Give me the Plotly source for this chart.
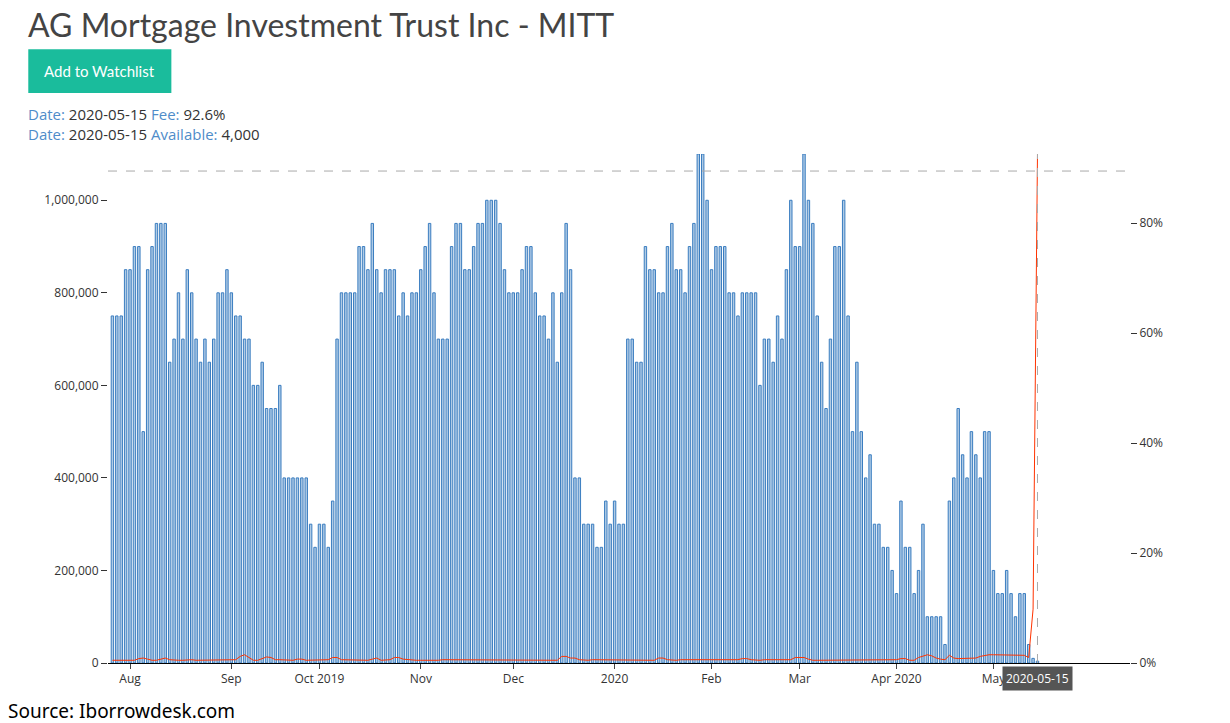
import plotly.graph_objects as go
import pandas as pd

# shares available, one value per trading day, ending 2020-05-15
available = [
    750000, 750000, 750000, 850000, 850000, 900000, 900000, 500000, 850000, 900000,
    950000, 950000, 950000, 650000, 700000, 800000, 700000, 850000, 800000, 700000,
    650000, 700000, 650000, 700000, 800000, 800000, 850000, 800000, 750000, 750000,
    700000, 700000, 600000, 600000, 650000, 550000, 550000, 550000, 600000, 400000,
    400000, 400000, 400000, 400000, 400000, 300000, 250000, 300000, 300000, 250000,
    350000, 700000, 800000, 800000, 800000, 800000, 900000, 900000, 850000, 950000,
    850000, 800000, 850000, 850000, 850000, 750000, 800000, 750000, 800000, 800000,
    850000, 900000, 950000, 800000, 700000, 700000, 700000, 900000, 950000, 950000,
    850000, 850000, 900000, 950000, 950000, 1000000, 1000000, 1000000, 950000, 850000,
    800000, 800000, 800000, 850000, 900000, 900000, 800000, 750000, 750000, 700000,
    800000, 650000, 800000, 950000, 850000, 400000, 400000, 300000, 300000, 300000,
    250000, 250000, 350000, 300000, 350000, 300000, 300000, 700000, 700000, 650000,
    650000, 900000, 850000, 850000, 800000, 800000, 900000, 950000, 850000, 850000,
    800000, 900000, 950000, 1100000, 1100000, 1000000, 850000, 900000, 900000, 900000,
    800000, 800000, 750000, 800000, 800000, 800000, 800000, 600000, 700000, 700000,
    650000, 750000, 700000, 850000, 1000000, 900000, 900000, 1100000, 1000000, 950000,
    750000, 650000, 550000, 700000, 900000, 900000, 1000000, 750000, 500000, 650000,
    500000, 400000, 450000, 300000, 300000, 250000, 250000, 200000, 150000, 350000,
    250000, 250000, 150000, 200000, 300000, 100000, 100000, 100000, 100000, 40000,
    350000, 400000, 550000, 450000, 400000, 500000, 450000, 400000, 500000, 500000,
    200000, 150000, 150000, 200000, 150000, 100000, 150000, 150000, 40000, 10000,
    4000,
]

# borrow fee in percent, same days
fee = [
    0.5, 0.5, 0.6, 0.5, 0.5, 0.5, 0.8, 0.9, 0.7, 0.5,
    0.5, 0.7, 0.9, 0.6, 0.5, 0.5, 0.5, 0.6, 0.6, 0.5,
    0.5, 0.6, 0.5, 0.5, 0.5, 0.5, 0.5, 0.5, 0.6, 1.2,
    1.5, 1.0, 0.5, 0.5, 0.8, 1.1, 1.0, 0.6, 0.6, 0.6,
    0.5, 0.5, 0.7, 0.7, 0.5, 0.5, 0.5, 0.5, 0.5, 0.6,
    1.0, 1.0, 0.6, 0.6, 0.5, 0.5, 0.6, 0.5, 0.5, 0.7,
    0.9, 0.5, 0.5, 0.6, 1.0, 1.0, 0.7, 0.6, 0.6, 0.5,
    0.5, 0.5, 0.4, 0.5, 0.5, 0.6, 0.6, 0.5, 0.5, 0.6,
    0.6, 0.5, 0.6, 0.5, 0.5, 0.5, 0.5, 0.6, 0.6, 0.5,
    0.5, 0.5, 0.6, 0.5, 0.5, 0.5, 0.6, 0.5, 0.6, 0.5,
    0.5, 0.5, 1.2, 1.2, 0.9, 0.9, 0.6, 0.5, 0.5, 0.6,
    0.6, 0.5, 0.5, 0.5, 0.5, 0.6, 0.6, 0.5, 0.5, 0.5,
    0.6, 0.5, 0.5, 0.5, 0.9, 0.9, 0.6, 0.5, 0.5, 0.6,
    0.6, 0.5, 0.5, 0.6, 0.6, 0.6, 0.5, 0.5, 0.5, 0.5,
    0.5, 0.6, 0.6, 0.8, 0.8, 0.6, 0.5, 0.5, 0.6, 0.6,
    0.5, 0.5, 0.5, 0.5, 0.6, 1.0, 1.0, 1.0, 0.7, 0.5,
    0.5, 0.5, 0.5, 0.6, 0.6, 0.6, 0.5, 0.5, 0.5, 0.6,
    0.6, 0.5, 0.5, 0.5, 0.5, 0.5, 0.5, 0.5, 0.6, 0.8,
    0.8, 0.5, 0.5, 1.0, 1.3, 1.5, 1.3, 0.9, 0.7, 0.6,
    1.4, 0.9, 0.8, 0.8, 0.8, 0.9, 0.9, 1.2, 1.4, 1.5,
    1.5, 1.5, 1.5, 1.5, 1.5, 1.5, 1.4, 1.4, 1.0, 9.8,
    92.6,
]

dates = pd.bdate_range(end="2020-05-15", periods=len(available))

tick_vals = ["2019-08-01", "2019-09-03", "2019-10-01", "2019-11-01", "2019-12-02",
             "2020-01-02", "2020-02-03", "2020-03-02", "2020-04-01", "2020-05-01"]
tick_text = ["Aug", "Sep", "Oct 2019", "Nov", "Dec", "2020", "Feb", "Mar", "Apr 2020", "May"]
fee_ticks = [0, 20, 40, 60, 80]
fee_tick_text = ["0%", "20%", "40%", "60%", "80%"]

fig = go.Figure()
fig.add_trace(go.Bar(
    x=dates, y=available, name="Available",
    marker=dict(color="rgba(150,185,220,0.75)", line=dict(color="#3a7dc0", width=1)),
))
fig.add_trace(go.Scatter(
    x=dates, y=fee, name="Fee", yaxis="y2", mode="lines",
    line=dict(color="#ff3300", width=1),
))

# hover crosshair at the last day
fig.add_shape(type="line", xref="x", yref="paper", x0=dates[-1], x1=dates[-1], y0=0, y1=1,
              line=dict(color="#aaaaaa", width=1, dash="dash"))
fig.add_shape(type="line", xref="paper", yref="y2", x0=0, x1=1, y0=89.5, y1=89.5,
              line=dict(color="#aaaaaa", width=1, dash="dash"))

fig.update_layout(
    width=1230, height=723,
    margin=dict(l=100, r=108, t=146, b=68),
    paper_bgcolor="white", plot_bgcolor="white",
    font=dict(family="Open Sans", size=12, color="#333"),
    showlegend=False,
    bargap=0.45,
    xaxis=dict(
        type="date",
        rangebreaks=[dict(bounds=["sat", "mon"])],
        range=[dates[0] - pd.Timedelta(days=1), "2020-06-15"],
        tickvals=tick_vals, ticktext=tick_text,
        ticks="outside", ticklen=5, showgrid=False,
        showline=True, linecolor="black", linewidth=1,
    ),
    yaxis=dict(
        range=[0, 1100000], tickvals=[0, 200000, 400000, 600000, 800000, 1000000],
        tickformat=",d", ticks="outside", ticklen=6, tickcolor="#333",
        showgrid=False, zeroline=False, showline=False,
    ),
    yaxis2=dict(
        overlaying="y", side="right", range=[0, 92.6],
        tickvals=fee_ticks, ticktext=fee_tick_text,
        ticks="outside", ticklen=6, tickcolor="#333",
        showgrid=False, zeroline=False, showline=False,
    ),
)

# page header parts
fig.add_annotation(xref="paper", yref="paper", x=-0.08, y=1.255, xanchor="left", yanchor="middle",
                   text="AG Mortgage Investment Trust Inc - MITT", showarrow=False,
                   font=dict(family="Lato", size=32, color="#444"))
fig.add_shape(type="rect", xref="paper", yref="paper", x0=-0.078, x1=0.062, y0=1.12, y1=1.206,
              fillcolor="#1abc9c", line=dict(width=0), layer="above")
fig.add_annotation(xref="paper", yref="paper", x=-0.008, y=1.163, xanchor="center", yanchor="middle",
                   text="Add to Watchlist", showarrow=False,
                   font=dict(family="Lato", size=15, color="white"))
fig.add_annotation(xref="paper", yref="paper", x=-0.08, y=1.079, xanchor="left", yanchor="middle",
                   text="<span style='color:#4f8cc9'>Date:</span> 2020-05-15 "
                        "<span style='color:#4f8cc9'>Fee:</span> 92.6%",
                   showarrow=False, font=dict(family="Open Sans", size=15, color="#333"))
fig.add_annotation(xref="paper", yref="paper", x=-0.08, y=1.039, xanchor="left", yanchor="middle",
                   text="<span style='color:#4f8cc9'>Date:</span> 2020-05-15 "
                        "<span style='color:#4f8cc9'>Available:</span> 4,000",
                   showarrow=False, font=dict(family="Open Sans", size=15, color="#333"))
fig.add_annotation(xref="x", yref="paper", x=dates[-1], y=-0.006, xanchor="center", yanchor="top",
                   text="2020-05-15", showarrow=False, bgcolor="#555", borderpad=3,
                   font=dict(family="Open Sans", size=12, color="white"))
fig.add_annotation(xref="paper", yref="paper", x=-0.1, y=-0.094, xanchor="left", yanchor="middle",
                   text="Source: Iborrowdesk.com", showarrow=False,
                   font=dict(family="Noto Sans", size=19, color="black"))

fig.write_html("out.html")
